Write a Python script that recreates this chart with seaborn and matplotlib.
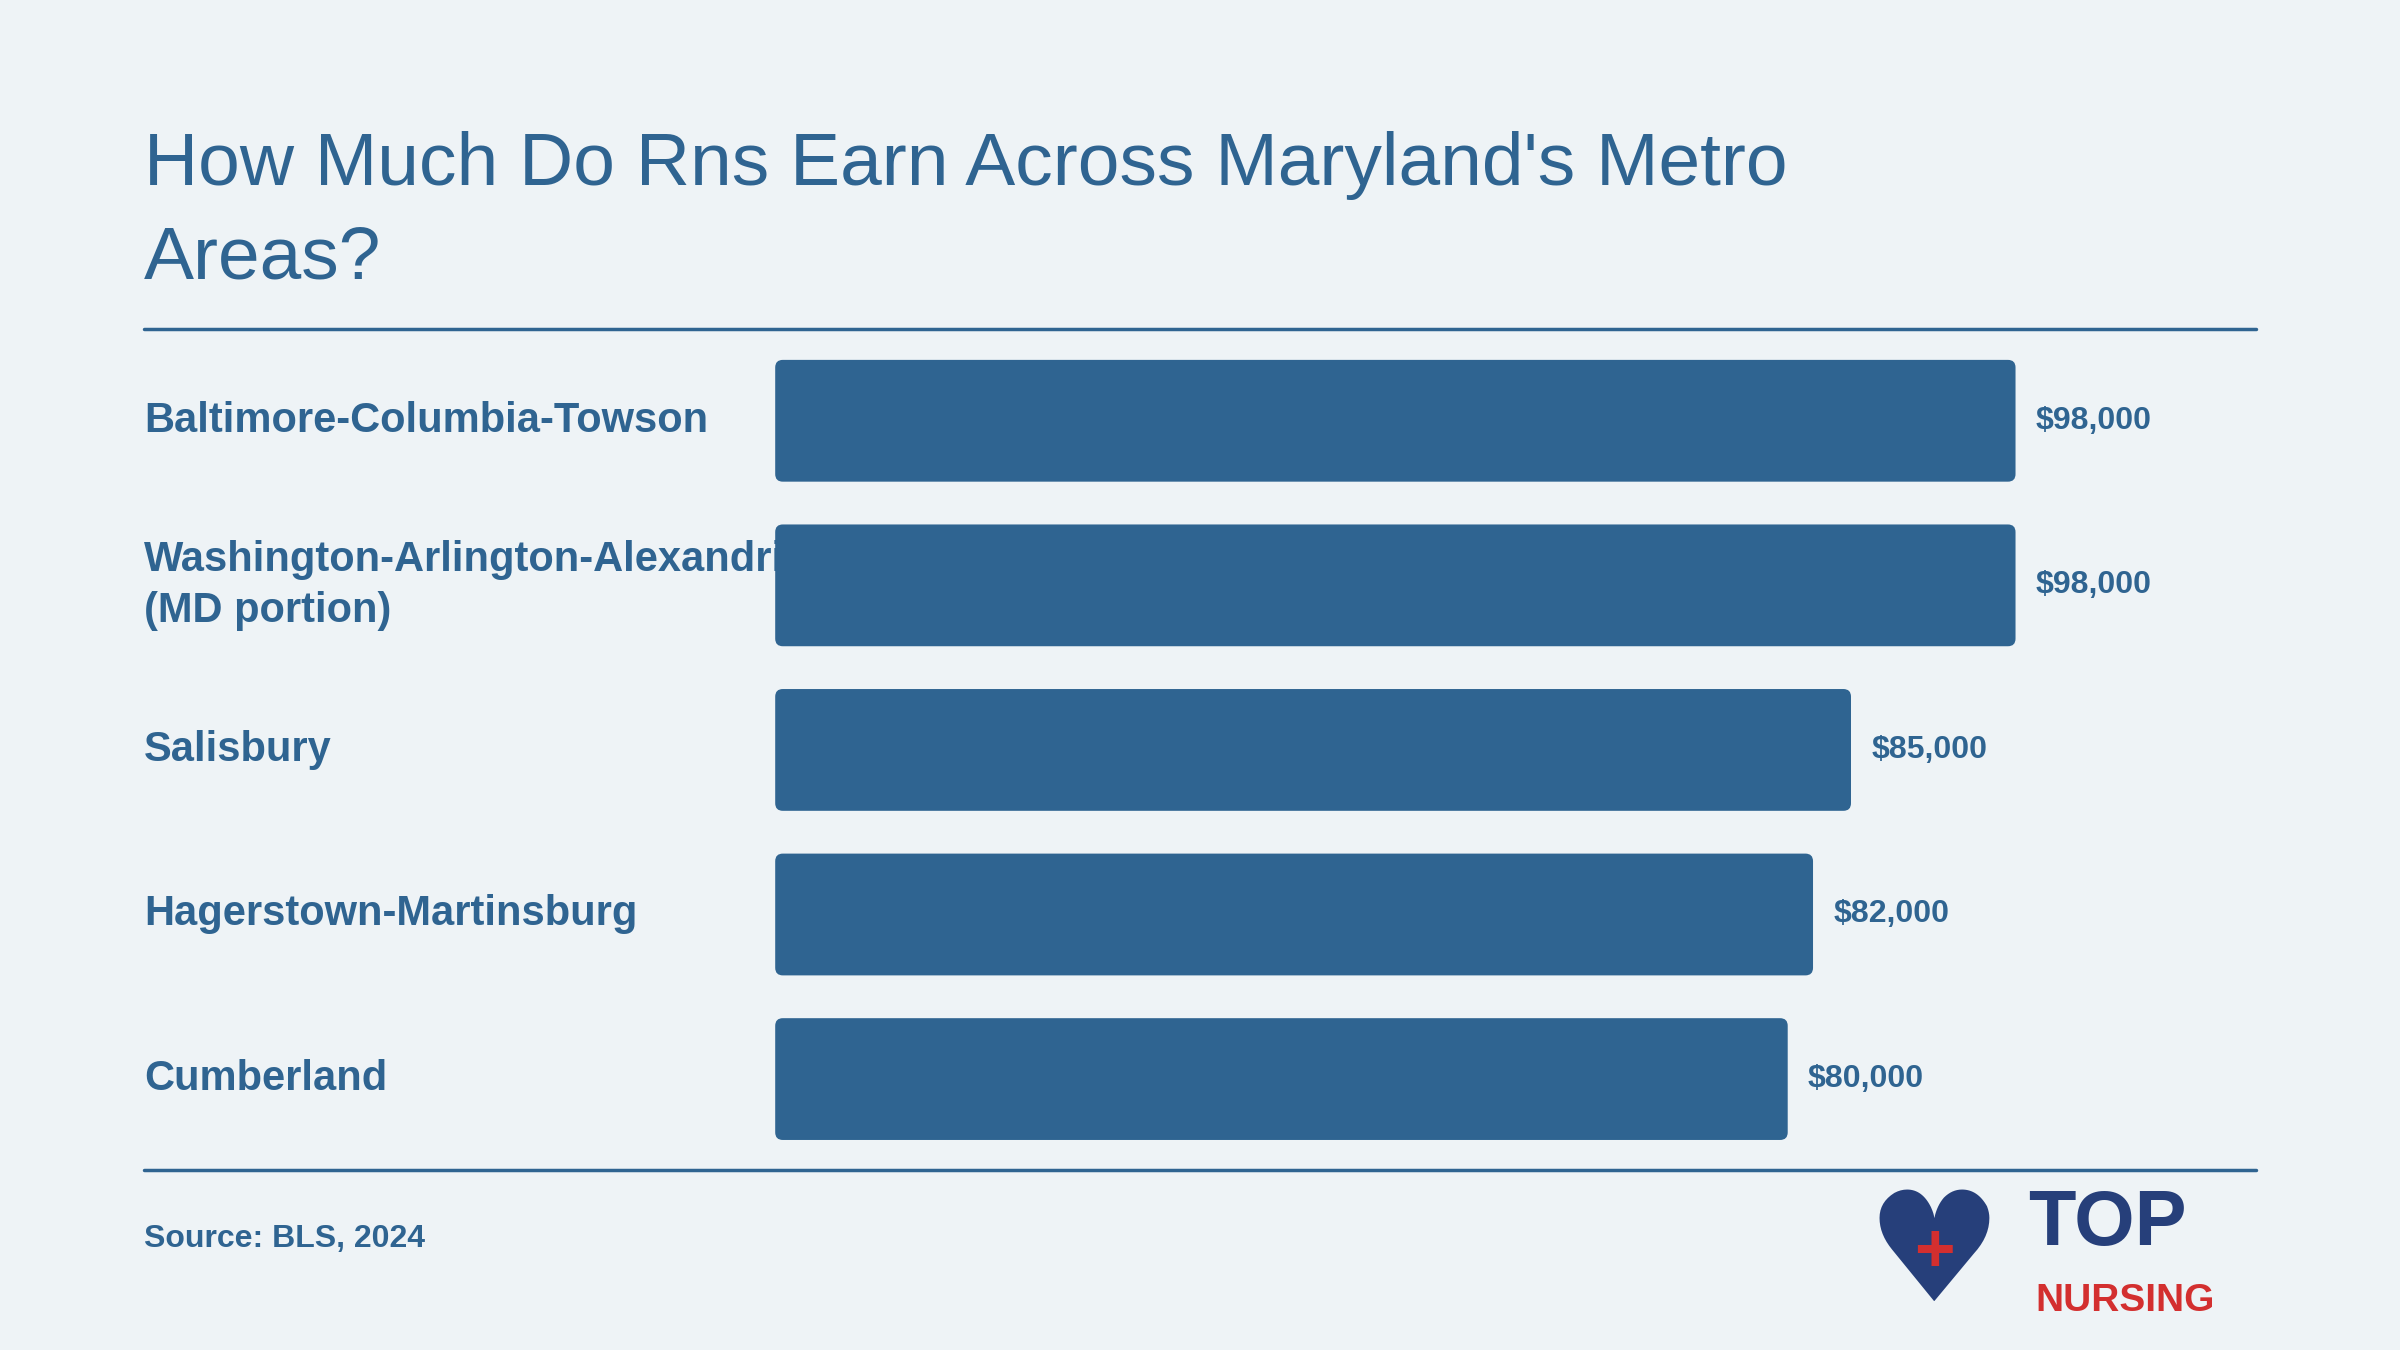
import matplotlib.pyplot as plt
import seaborn as sns
import pandas as pd
from matplotlib.patches import FancyBboxPatch

areas = ['Baltimore-Columbia-Towson',
         'Washington-Arlington-Alexandria\n(MD portion)',
         'Salisbury', 'Hagerstown-Martinsburg', 'Cumberland']
salaries = [98000, 98000, 85000, 82000, 80000]

df = pd.DataFrame({'area': areas, 'salary': salaries})

bg = '#eef3f6'
blue = '#2f6491'

sns.set_style('white')
plt.rcParams['font.family'] = ['Liberation Sans', 'DejaVu Sans']

fig = plt.figure(figsize=(24, 13.5), dpi=100, facecolor=bg)
ax = fig.add_axes([0.323, 0.144, 0.617, 0.601])
ax.set_facecolor(bg)
sns.barplot(data=df, x='salary', y='area', color=blue, width=0.74,
            saturation=1, ax=ax, zorder=2)

# rounded bars
for p in list(ax.patches):
    x0, y0, w, h = p.get_x(), p.get_y(), p.get_width(), p.get_height()
    p.set_visible(False)
    ax.add_patch(FancyBboxPatch((x0, y0), w, h,
                                boxstyle='round,pad=0,rounding_size=600',
                                mutation_aspect=7.7e-5, fc=blue, ec=blue,
                                lw=0, zorder=2))
    ax.text(x0 + w + 1600, y0 + h / 2, f'${w:,.0f}', va='center', ha='left',
            fontsize=23, fontweight='bold', color=blue)

ax.set_xlim(0, 117000)
ax.set_ylim(4.465, -0.465)
ax.set_xticks([])
ax.set_yticks([])
ax.set_xlabel('')
ax.set_ylabel('')
sns.despine(ax=ax, left=True, bottom=True)

lab_tr = ax.get_yaxis_transform()
xf = (0.06 - 0.323) / 0.617
for i, a in enumerate(areas):
    ax.text(xf, i, a, transform=lab_tr, ha='left', va='center', fontsize=30,
            fontweight='bold', color=blue, zorder=1, clip_on=False, linespacing=1.35)

fig.text(0.06, 0.843, "How Much Do Rns Earn Across Maryland's Metro\nAreas?",
         fontsize=54, color=blue, ha='left', va='center', linespacing=1.45)
fig.add_artist(plt.Line2D([0.06, 0.94], [0.756, 0.756], color=blue, lw=2.5))
fig.add_artist(plt.Line2D([0.06, 0.94], [0.133, 0.133], color=blue, lw=2.5))
fig.text(0.06, 0.082, 'Source: BLS, 2024', fontsize=23, fontweight='bold',
         color=blue, va='center')

# logo
fig.text(0.806, 0.068, '\u2665', fontsize=110, color='#263f7a', ha='center', va='center',
         family='DejaVu Sans')
fig.text(0.806, 0.072, '+', fontsize=50, color='#d32f2f', ha='center', va='center',
         fontweight='bold')
fig.text(0.845, 0.093, 'TOP', fontsize=56, color='#263f7a', fontweight='bold', va='center')
fig.text(0.848, 0.036, 'NURSING', fontsize=28, color='#d32f2f', fontweight='bold', va='center')

fig.savefig('out.png', dpi=100, facecolor=bg)
